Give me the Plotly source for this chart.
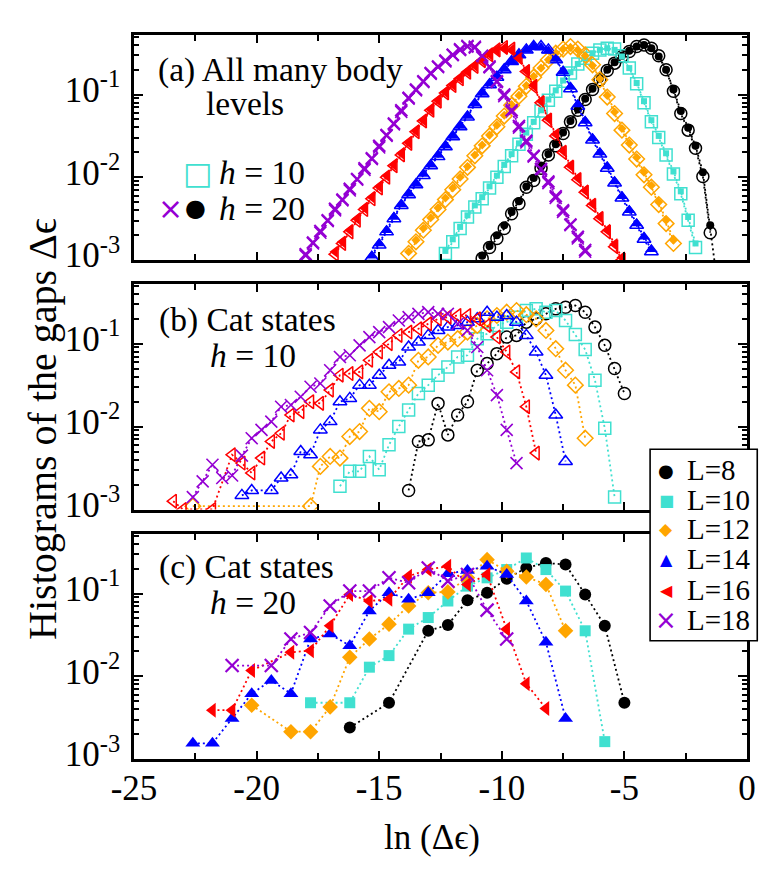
import plotly.graph_objects as go
from plotly.subplots import make_subplots

# bin centres, ln(gap), one grid per panel
BINS_A = [-18.0, -17.7, -17.4, -17.1, -16.8, -16.5, -16.2, -15.9, -15.6, -15.3,
          -15.0, -14.7, -14.4, -14.1, -13.8, -13.5, -13.2, -12.9, -12.6, -12.3,
          -12.0, -11.7, -11.4, -11.1, -10.8, -10.5, -10.2, -9.9, -9.6, -9.3,
          -9.0, -8.7, -8.4, -8.1, -7.8, -7.5, -7.2, -6.9, -6.6, -6.3,
          -6.0, -5.7, -5.4, -5.1, -4.8, -4.5, -4.2, -3.9, -3.6, -3.3,
          -3.0, -2.7, -2.4, -2.1, -1.8, -1.5, -1.2]
BINS_B = [-23.4, -23.0, -22.6, -22.2, -21.8, -21.4, -21.0, -20.6, -20.2, -19.8,
          -19.4, -19.0, -18.6, -18.2, -17.8, -17.4, -17.0, -16.6, -16.2, -15.8,
          -15.4, -15.0, -14.6, -14.2, -13.8, -13.4, -13.0, -12.6, -12.2, -11.8,
          -11.4, -11.0, -10.6, -10.2, -9.8, -9.4, -9.0, -8.6, -8.2, -7.8,
          -7.4, -7.0, -6.6, -6.2, -5.8, -5.4, -5.0]
BINS_C = [-22.6, -21.8, -21.0, -20.2, -19.4, -18.6, -17.8, -17.0, -16.2, -15.4,
          -14.6, -13.8, -13.0, -12.2, -11.4, -10.6, -9.8, -9.0, -8.2, -7.4,
          -6.6, -5.8, -5.0]

SIZES = ['L=8', 'L=10', 'L=12', 'L=14', 'L=16', 'L=18']
COLORS = ['black', '#40e0d0', '#ffa500', '#0000ff', '#ff0000', '#9400d3']
OPEN = ['circle-open', 'square-open', 'diamond-open', 'triangle-up-open',
        'triangle-left-open', 'x-thin-open']
FILLED = ['circle', 'square', 'diamond', 'triangle-up', 'triangle-left', 'x-thin-open']

# histogram heights as log10 values: (first bin, values)
# (a) all many body levels, h = 10
A10_L8 = (-10.8, [-2.98, -2.85, -2.74, -2.62, -2.44, -2.32, -2.12, -2.04, -1.89, -1.73,
                  -1.62, -1.47, -1.33, -1.19, -1.06, -0.94, -0.82, -0.71, -0.62, -0.54,
                  -0.48, -0.42, -0.40, -0.44, -0.53, -0.70, -0.96, -1.23, -1.43, -1.65,
                  -1.99, -2.67])
A10_L10 = (-12.3, [-2.92, -2.78, -2.62, -2.48, -2.36, -2.26, -2.13, -2.00, -1.87, -1.74,
                   -1.60, -1.48, -1.34, -1.20, -1.07, -0.96, -0.84, -0.74, -0.63, -0.56,
                   -0.50, -0.46, -0.44, -0.45, -0.53, -0.68, -0.87, -1.10, -1.33, -1.52,
                   -1.73, -1.96, -2.20, -2.52, -2.85])
A10_L12 = (-13.8, [-2.92, -2.78, -2.64, -2.51, -2.39, -2.27, -2.15, -2.02, -1.88, -1.74,
                   -1.62, -1.50, -1.39, -1.26, -1.13, -1.02, -0.90, -0.79, -0.68, -0.58,
                   -0.50, -0.45, -0.42, -0.45, -0.52, -0.64, -0.82, -1.03, -1.23, -1.43,
                   -1.61, -1.78, -1.97, -2.12, -2.33, -2.56, -2.80])
A10_L14 = (-15.3, [-2.97, -2.82, -2.66, -2.50, -2.34, -2.21, -2.09, -1.98, -1.86, -1.75,
                   -1.63, -1.51, -1.39, -1.27, -1.12, -0.99, -0.88, -0.79, -0.70, -0.60,
                   -0.52, -0.46, -0.42, -0.42, -0.46, -0.58, -0.73, -0.93, -1.14, -1.34,
                   -1.55, -1.72, -1.89, -2.07, -2.25, -2.42, -2.58, -2.75, -2.90])
A10_L16 = (-16.8, [-2.93, -2.80, -2.66, -2.52, -2.39, -2.26, -2.13, -2.00, -1.86, -1.73,
                   -1.59, -1.45, -1.32, -1.19, -1.08, -0.98, -0.89, -0.81, -0.73, -0.66,
                   -0.59, -0.52, -0.46, -0.43, -0.45, -0.55, -0.72, -0.90, -1.10, -1.31,
                   -1.50, -1.70, -1.88, -2.03, -2.18, -2.34, -2.50, -2.66, -2.84, -3.00])
A10_L18 = (-18.0, [-2.95, -2.80, -2.67, -2.53, -2.40, -2.28, -2.16, -2.03, -1.91, -1.78,
                   -1.64, -1.50, -1.36, -1.21, -1.05, -0.95, -0.85, -0.75, -0.67, -0.60,
                   -0.52, -0.45, -0.41, -0.42, -0.55, -0.66, -0.85, -1.02, -1.21, -1.40,
                   -1.58, -1.75, -1.92, -2.07, -2.25, -2.42, -2.58, -2.74, -2.90])
# (a) all many body levels, h = 20
A20_L8 = (-10.8, [-2.95, -2.83, -2.70, -2.58, -2.42, -2.29, -2.11, -2.01, -1.87, -1.72,
                  -1.60, -1.46, -1.32, -1.18, -1.05, -0.93, -0.81, -0.70, -0.61, -0.53,
                  -0.47, -0.42, -0.40, -0.44, -0.54, -0.70, -0.94, -1.20, -1.40, -1.62,
                  -1.94, -2.58, -3.30])
A20_L10 = (-12.3, [-2.89, -2.75, -2.60, -2.46, -2.34, -2.24, -2.11, -1.98, -1.85, -1.72,
                   -1.59, -1.46, -1.33, -1.19, -1.06, -0.95, -0.83, -0.73, -0.63, -0.56,
                   -0.50, -0.46, -0.44, -0.46, -0.54, -0.68, -0.86, -1.08, -1.31, -1.50,
                   -1.71, -1.93, -2.17, -2.48, -2.80])
A20_L12 = (-13.8, [-2.90, -2.76, -2.62, -2.49, -2.37, -2.25, -2.13, -2.00, -1.87, -1.73,
                   -1.61, -1.49, -1.37, -1.25, -1.12, -1.01, -0.89, -0.78, -0.68, -0.58,
                   -0.50, -0.45, -0.43, -0.46, -0.53, -0.65, -0.81, -1.01, -1.21, -1.41,
                   -1.59, -1.76, -1.94, -2.10, -2.30, -2.52, -2.76])
A20_L14 = (-15.3, [-2.95, -2.80, -2.64, -2.48, -2.33, -2.20, -2.08, -1.96, -1.85, -1.73,
                   -1.62, -1.50, -1.38, -1.26, -1.11, -0.98, -0.87, -0.78, -0.69, -0.60,
                   -0.52, -0.46, -0.42, -0.43, -0.47, -0.57, -0.72, -0.91, -1.12, -1.32,
                   -1.53, -1.70, -1.87, -2.05, -2.23, -2.40, -2.56, -2.72, -2.87])
A20_L16 = (-16.8, [-2.90, -2.78, -2.64, -2.50, -2.37, -2.24, -2.11, -1.98, -1.85, -1.71,
                   -1.58, -1.44, -1.31, -1.18, -1.07, -0.97, -0.88, -0.80, -0.72, -0.65,
                   -0.58, -0.51, -0.46, -0.44, -0.46, -0.56, -0.71, -0.89, -1.08, -1.29,
                   -1.48, -1.68, -1.86, -2.01, -2.16, -2.32, -2.48, -2.64, -2.81, -2.97])
A20_L18 = (-18.0, [-2.93, -2.79, -2.65, -2.52, -2.38, -2.27, -2.14, -2.02, -1.89, -1.77,
                   -1.62, -1.49, -1.35, -1.19, -1.04, -0.94, -0.84, -0.74, -0.66, -0.59,
                   -0.52, -0.46, -0.42, -0.43, -0.53, -0.67, -0.84, -1.00, -1.19, -1.38,
                   -1.56, -1.74, -1.90, -2.05, -2.23, -2.40, -2.57, -2.72, -2.88])

# (b) cat states, h = 10  (None = empty bin, line drawn across)
B_L8 = (-13.8, [-2.77, -2.18, -2.16, -1.72, -2.10, -1.86, -1.70, -1.32, -1.24, -1.12,
                -0.92, -0.90, -0.74, -0.70, -0.64, -0.58, -0.56, -0.54, -0.62, -0.80,
                -1.02, -1.30, -1.60])
B_L10 = (-16.6, [-2.72, -2.54, -2.54, -2.36, -2.52, -2.22, -2.00, -1.80, -1.60, -1.50,
                 -1.38, -1.28, -1.16, -1.14, -0.94, -0.88, -0.78, -0.74, -0.68, -0.60,
                 -0.58, -0.62, -0.60, -0.72, -0.89, -1.07, -1.44, -2.02, -2.85])
B_L12 = (-22.6, [-2.96, None, None, None, None, None, None, None, None, None,
                 None, None, -2.96, -2.48, -2.36, -2.38, -2.12, -2.06, -1.78, -1.82,
                 -1.58, -1.54, -1.50, -1.20, -1.16, -1.02, -0.98, -0.94, -0.86, -0.78,
                 -0.70, -0.66, -0.62, -0.60, -0.65, -0.70, -0.84, -1.06, -1.32, -1.50,
                 -2.14])
B_L14 = (-20.6, [-2.83, -2.77, None, -2.77, -2.62, -2.58, -2.30, -2.34, -2.04, -1.94,
                 -1.70, -1.66, -1.50, -1.50, -1.38, -1.26, -1.22, -1.04, -0.98, -0.90,
                 -0.84, -0.80, -0.78, -0.74, -0.70, -0.62, -0.68, -0.66, -0.74, -0.90,
                 -1.10, -1.38, -1.86, -2.42])
B_L16 = (-23.4, [-2.90, -3.00, None, None, -3.00, None, -2.34, -2.44, -2.56, -2.38,
                 -2.18, -2.08, -1.86, -1.82, -1.70, -1.72, -1.56, -1.38, -1.36, -1.34,
                 -1.20, -1.10, -1.00, -0.90, -0.86, -0.82, -0.76, -0.70, -0.68, -0.66,
                 -0.66, -0.70, -0.78, -0.92, -1.10, -1.34, -1.76, -2.32])
B_L18 = (-22.6, [-2.85, -2.66, -2.46, -2.62, -2.59, -2.35, -2.14, -2.04, -1.94, -1.76,
                 -1.74, -1.64, -1.52, -1.48, -1.32, -1.16, -1.14, -1.02, -0.92, -0.86,
                 -0.80, -0.72, -0.68, -0.64, -0.62, -0.64, -0.64, -0.76, -0.84, -1.04,
                 -1.32, -1.62, -2.04, -2.44])

# (c) cat states, h = 20
C_L8 = (-16.2, [-2.62, None, -2.32, None, -1.45, -1.38, -1.08, -0.99, -0.82, -0.69,
                -0.63, -0.65, -1.01, -1.39, -2.32])
C_L10 = (-17.8, [-2.32, None, -2.32, -1.89, -1.75, -1.43, -1.29, -1.09, -0.91, -0.81,
                 -0.71, -0.57, -0.71, -0.97, -1.45, -2.79])
C_L12 = (-20.2, [-2.35, None, -2.67, -2.67, -2.37, -1.77, -1.55, -1.37, -1.15, -0.99,
                 -0.98, -0.81, -0.59, -0.73, -0.80, -0.89, -1.45])
C_L14 = (-22.6, [-2.81, -2.81, -2.51, -2.21, -2.05, -2.21, -1.55, -1.49, -1.63, -1.21,
                 -0.99, -1.07, -0.99, -0.76, -0.72, -0.67, -0.77, -1.09, -1.59, -2.51])
C_L16 = (-21.8, [-2.41, -2.41, -1.93, None, -1.71, -1.69, -1.39, -1.01, -1.09, -1.07,
                 -0.79, -0.71, -0.67, -0.89, -0.77, -1.43, -2.09, -2.39])
C_L18 = (-21.0, [-1.87, None, -1.87, -1.55, -1.47, -1.15, -0.97, -0.97, -0.81, -0.87,
                 -0.69, -0.85, -0.77, -1.20, -1.55])

X_TICKS = [-25, -20, -15, -10, -5, 0]
X_TICKTEXT = ['-25', '-20', '-15', '-10', '-5', '0']
X_MINOR = [-22.5, -17.5, -12.5, -7.5, -2.5]
Y_TICKS = [0.001, 0.01, 0.1]
Y_TICKTEXT = ['10<sup>-3</sup>', '10<sup>-2</sup>', '10<sup>-1</sup>']
Y_MINOR = [0.002, 0.003, 0.004, 0.005, 0.006, 0.007, 0.008, 0.009,
           0.02, 0.03, 0.04, 0.05, 0.06, 0.07, 0.08, 0.09,
           0.2, 0.3, 0.4, 0.5]

SERIF = 'Liberation Serif'
GLYPH = 'DejaVu Sans'

# the page body has an 8px margin, so the figure is drawn 8px in and 16px smaller
OFF = 8
W, H = 776 - 2 * OFF, 869 - 2 * OFF
# plot area in screen pixels
L, R, T, B = 133.5, 749.0, 35.0, 759.0


def px(x):
    return (x - L) / (R - L)


def py(y):
    return (B - y) / (B - T)


def add_series(fig, row, bins, series, k, filled, size):
    first, logs = series
    i = bins.index(first)
    x = bins[i:i + len(logs)]
    y = [None if v is None else 10 ** v for v in logs]
    sym = FILLED[k] if filled else OPEN[k]
    if sym == 'x-thin-open':
        lw = 2.2 if filled else 1.6
    else:
        lw = 0 if filled else 1.5
    fig.add_trace(go.Scatter(
        x=x, y=y, mode='lines+markers', connectgaps=True, showlegend=False,
        name=SIZES[k],
        line=dict(color=COLORS[k], width=1.8, dash='2px,3px'),
        marker=dict(symbol=sym, size=size, color=COLORS[k],
                    line=dict(color=COLORS[k], width=lw))),
        row=row, col=1)


def text(fig, s, x, y, size=33.5, color='black', family=SERIF, xanchor='left'):
    fig.add_annotation(text=s, x=px(x), y=py(y), xref='paper', yref='paper',
                       xanchor=xanchor, yanchor='middle', showarrow=False,
                       font=dict(family=family, size=size, color=color))


fig = make_subplots(rows=3, cols=1)

a10 = [A10_L8, A10_L10, A10_L12, A10_L14, A10_L16, A10_L18]
a20 = [A20_L8, A20_L10, A20_L12, A20_L14, A20_L16, A20_L18]
b10 = [B_L8, B_L10, B_L12, B_L14, B_L16, B_L18]
c20 = [C_L8, C_L10, C_L12, C_L14, C_L16, C_L18]
A20_SIZE = [8, 6, 7, 11, 11, 12]
C_SIZE = [12, 11, 12, 13, 13, 13]

for k in range(6):
    add_series(fig, 1, BINS_A, a10[k], k, False, 12)
for k in range(6):
    add_series(fig, 1, BINS_A, a20[k], k, True, A20_SIZE[k])
for k in range(6):
    add_series(fig, 2, BINS_B, b10[k], k, False, 12)
for k in range(6):
    add_series(fig, 3, BINS_C, c20[k], k, True, C_SIZE[k])

domains = [[py(260), 1.0], [py(509.5), py(284)], [0.0, py(534)]]
for row in (1, 2, 3):
    fig.update_xaxes(
        row=row, col=1, range=[-25, 0], tickmode='array', tickvals=X_TICKS,
        ticktext=X_TICKTEXT, showticklabels=(row == 3),
        ticks='inside', ticklen=8, tickwidth=2, tickcolor='black',
        minor=dict(tickmode='array', tickvals=X_MINOR, ticks='inside',
                   ticklen=6, tickwidth=2, tickcolor='black'),
        showline=True, linewidth=2.5, linecolor='black', mirror='allticks',
        showgrid=False, zeroline=False, ticklabelstandoff=-4,
        tickfont=dict(family=SERIF, size=35, color='black'))
    fig.update_yaxes(
        row=row, col=1, type='log', range=[-3, -0.28], domain=domains[row - 1],
        tickmode='array', tickvals=Y_TICKS, ticktext=Y_TICKTEXT,
        ticks='inside', ticklen=9, tickwidth=2, tickcolor='black',
        minor=dict(tickmode='array', tickvals=Y_MINOR, ticks='inside',
                   ticklen=5, tickwidth=1.5, tickcolor='black'),
        showline=True, linewidth=2.5, linecolor='black', mirror='allticks',
        showgrid=False, zeroline=False, ticklabelstandoff=4, ticklabelshift=-5,
        tickfont=dict(family=SERIF, size=35, color='black'))

# panel labels
text(fig, '(a) All many body', 156, 70)
text(fig, 'levels', 204, 104)
text(fig, '\u25a1', 197, 173, size=31, color=COLORS[1], family=GLYPH, xanchor='center')
text(fig, '<i>h</i> = 10', 217, 172)
text(fig, '\u00d7', 170, 208, size=30, color=COLORS[5], family=GLYPH, xanchor='center')
text(fig, '\u25cf', 195, 208, size=24, color='black', family=GLYPH, xanchor='center')
text(fig, '<i>h</i> = 20', 217, 208)
text(fig, '(b) Cat states', 157, 320)
text(fig, '<i>h</i> = 10', 208, 355)
text(fig, '(c) Cat states', 157, 567)
text(fig, '<i>h</i> = 20', 208, 602)

# axis titles
text(fig, 'ln (\u0394\u03f5)', 433, 837, size=35, xanchor='center')
fig.add_annotation(text='Histograms of the gaps \u0394\u03f5', x=px(41), y=py(429),
                   xref='paper', yref='paper', textangle=-90, showarrow=False,
                   xanchor='center', yanchor='middle',
                   font=dict(family=SERIF, size=40, color='black'))

# system size key
fig.add_shape(type='rect', xref='paper', yref='paper', layer='above',
              x0=px(651.7), x1=px(759.3), y0=py(640.7), y1=py(449.3),
              line=dict(color='black', width=1.6), fillcolor='white')
KEY_GLYPHS = ['\u25cf', '\u25a0', '\u25c6', '\u25b2', '\u25c0', '\u00d7']
KEY_GLYPH_SIZES = [18, 16, 17, 16, 16, 26]
KEY_ROWS = [470, 500, 529, 559, 590, 620]
for k in range(6):
    text(fig, KEY_GLYPHS[k], 668, KEY_ROWS[k], size=KEY_GLYPH_SIZES[k],
         color=COLORS[k], family=GLYPH, xanchor='center')
    text(fig, SIZES[k], 687, KEY_ROWS[k], size=29)

fig.update_layout(
    width=W, height=H,
    margin=dict(l=L - OFF, r=W - (R - OFF), t=T - OFF, b=H - (B - OFF)),
    paper_bgcolor='white', plot_bgcolor='white',
    font=dict(family=SERIF, color='black'))

fig.write_html('out.html')
